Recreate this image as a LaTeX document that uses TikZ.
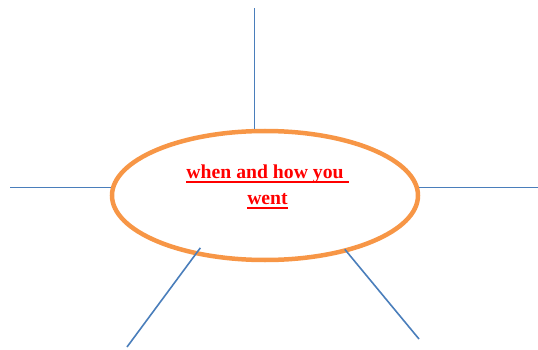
\documentclass[tikz,border=0pt]{standalone}
\usepackage{fontspec}
\setmainfont{Liberation Serif}
\usetikzlibrary{shapes.geometric,calc}
\definecolor{ringorange}{HTML}{F79646}
\definecolor{spokeblue}{HTML}{4A7EBB}
% underline drawn as a thick rule under the whole box
\newcommand\redline[1]{\setbox0\hbox{#1}\leavevmode\rlap{\rule[-4pt]{\wd0}{2pt}}\box0}
\begin{document}
\begin{tikzpicture}[x=1pt, y=-1pt,
        ring/.style={ellipse, draw=ringorange, line width=4.5pt, inner sep=0pt, minimum width=306pt, minimum height=129pt},
        spoke/.style={draw=spokeblue, line width=1.6pt},
        title/.style={text=red, font=\bfseries\fontsize{19.7}{26}\selectfont, align=center},
    ]
        \useasboundingbox (0,0) rectangle (538,350);

        % Central ellipse and its text
        \node[ring] (topic) at (265, 195.5) {};
        \node[title] (label) at (267.5, 187) {\redline{when and how you\ }\\\redline{went}};

        % Free ends of the spokes
        \coordinate (topEnd) at (0, 8);
        \coordinate (leftEnd) at (10, 0);
        \coordinate (rightEnd) at (538, 0);
        \coordinate (lowLeftEnd) at (127, 347);
        \coordinate (lowRightEnd) at (419, 339);

        % Spokes
        \draw[spoke] (topic.99.2) -- (topic.99.2 |- topEnd);
        \draw[spoke] (topic.177) -- (topic.177 -| leftEnd);
        \draw[spoke] (topic.3) -- (topic.3 -| rightEnd);
        \draw[spoke] ($(topic.219)!10.5pt!(topic.center)$) -- (lowLeftEnd);
        \draw[spoke] ($(topic.326.65)!4.4pt!(topic.center)$) -- (lowRightEnd);
\end{tikzpicture}
\end{document}
